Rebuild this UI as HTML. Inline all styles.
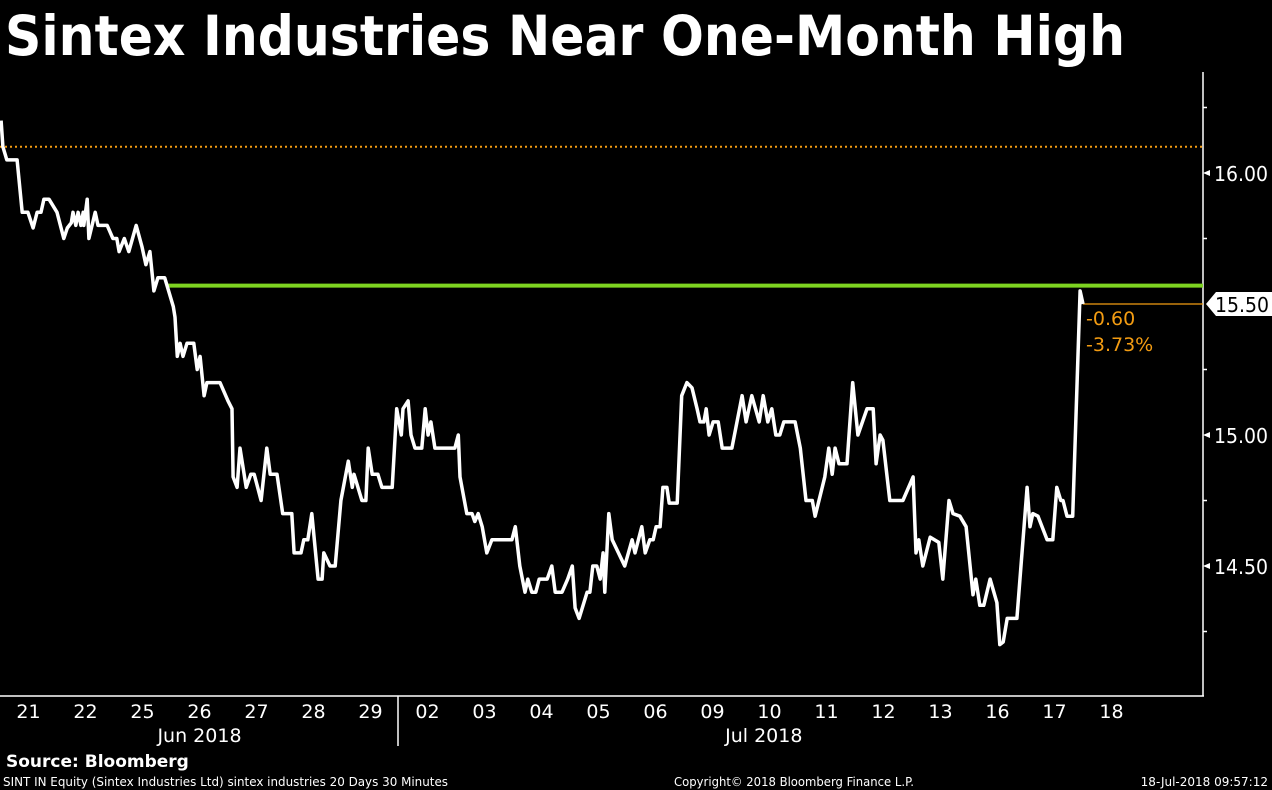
<!DOCTYPE html>
<html><head><meta charset="utf-8"><style>
html,body{margin:0;padding:0;background:#000;}
svg{display:block;}
text{font-family:"DejaVu Sans","Liberation Sans",sans-serif;}
</style></head><body>
<svg id="chart" width="1272" height="790" viewBox="0 0 1272 790" xmlns="http://www.w3.org/2000/svg">
<rect width="1272" height="790" fill="#000"/>
<text x="5" y="55" fill="#fff" font-size="55" font-weight="bold" textLength="1120" lengthAdjust="spacingAndGlyphs">Sintex Industries Near One-Month High</text>
<g id="plot"></g>
<text x="6" y="767" fill="#fff" font-size="17" font-weight="bold">Source: Bloomberg</text>
<text x="3" y="786" fill="#fff" font-size="12" textLength="445" lengthAdjust="spacingAndGlyphs">SINT IN Equity (Sintex Industries Ltd) sintex industries 20 Days 30 Minutes</text>
<text x="674" y="786" fill="#fff" font-size="12" textLength="240" lengthAdjust="spacingAndGlyphs">Copyright© 2018 Bloomberg Finance L.P.</text>
<text x="1268" y="786" fill="#fff" font-size="12" text-anchor="end">18-Jul-2018 09:57:12</text>
</svg>
<script>
const times = [0.02,0.05,0.12,0.30,0.39,0.49,0.58,0.65,0.72,0.77,0.86,1.00,1.12,1.18,1.25,1.28,1.33,1.37,1.42,1.46,1.47,1.53,1.56,1.67,1.72,1.88,1.98,2.05,2.09,2.18,2.26,2.39,2.49,2.56,2.63,2.70,2.77,2.89,3.04,3.07,3.11,3.16,3.21,3.28,3.40,3.46,3.51,3.58,3.63,3.86,4.00,4.07,4.09,4.16,4.21,4.32,4.40,4.46,4.58,4.68,4.74,4.86,4.96,5.12,5.16,5.28,5.33,5.40,5.47,5.58,5.65,5.68,5.79,5.88,5.98,6.11,6.18,6.21,6.35,6.42,6.46,6.53,6.63,6.70,6.88,6.96,7.04,7.07,7.16,7.21,7.28,7.40,7.46,7.51,7.56,7.63,7.98,8.04,8.07,8.19,8.28,8.33,8.39,8.46,8.54,8.63,8.98,9.04,9.12,9.21,9.26,9.33,9.40,9.46,9.60,9.68,9.74,9.86,9.96,10.04,10.09,10.16,10.30,10.35,10.40,10.47,10.53,10.58,10.61,10.68,10.74,10.96,11.09,11.14,11.26,11.32,11.40,11.46,11.51,11.58,11.63,11.70,11.74,11.88,11.96,12.05,12.14,12.23,12.28,12.35,12.39,12.44,12.51,12.60,12.67,12.84,13.02,13.09,13.19,13.32,13.39,13.47,13.54,13.61,13.68,13.75,13.95,14.04,14.14,14.25,14.30,14.47,14.54,14.60,14.65,14.72,14.86,14.96,15.05,15.21,15.32,15.37,15.44,15.49,15.61,15.84,16.02,16.07,16.12,16.19,16.32,16.47,16.54,16.65,16.72,16.84,16.95,17.07,17.12,17.19,17.26,17.37,17.49,17.54,17.60,17.67,17.84,18.02,18.07,18.12,18.21,18.37,18.47,18.54,18.61,18.65,18.72,18.82,18.95,19.00];
const prices = [16.20,16.10,16.05,16.05,15.85,15.85,15.79,15.85,15.85,15.90,15.90,15.85,15.75,15.79,15.81,15.85,15.80,15.85,15.80,15.85,15.80,15.90,15.75,15.85,15.80,15.80,15.75,15.75,15.70,15.75,15.70,15.80,15.72,15.65,15.70,15.55,15.60,15.60,15.49,15.45,15.30,15.35,15.30,15.35,15.35,15.25,15.30,15.15,15.20,15.20,15.13,15.10,14.84,14.80,14.95,14.80,14.85,14.85,14.75,14.95,14.85,14.85,14.70,14.70,14.55,14.55,14.60,14.60,14.70,14.45,14.45,14.55,14.50,14.50,14.75,14.90,14.80,14.85,14.75,14.75,14.95,14.85,14.85,14.80,14.80,15.10,15.00,15.10,15.13,15.00,14.95,14.95,15.10,15.00,15.05,14.95,14.95,15.00,14.84,14.70,14.70,14.67,14.70,14.65,14.55,14.60,14.60,14.65,14.50,14.40,14.45,14.40,14.40,14.45,14.45,14.50,14.40,14.40,14.45,14.50,14.34,14.30,14.40,14.40,14.50,14.50,14.45,14.55,14.40,14.70,14.60,14.50,14.60,14.55,14.65,14.55,14.60,14.60,14.65,14.65,14.80,14.80,14.74,14.74,15.15,15.20,15.18,15.10,15.05,15.05,15.10,15.00,15.05,15.05,14.95,14.95,15.15,15.05,15.15,15.05,15.15,15.05,15.10,15.00,15.00,15.05,15.05,14.95,14.75,14.75,14.69,14.84,14.95,14.85,14.95,14.89,14.89,15.20,15.00,15.10,15.10,14.89,15.00,14.98,14.75,14.75,14.84,14.55,14.60,14.50,14.61,14.59,14.45,14.75,14.70,14.69,14.65,14.39,14.45,14.35,14.35,14.45,14.36,14.20,14.21,14.30,14.30,14.80,14.65,14.70,14.69,14.60,14.60,14.80,14.75,14.75,14.69,14.69,15.55,15.50];
const dayLabels = ["21","22","25","26","27","28","29","02","03","04","05","06","09","10","11","12","13","16","17","18"];
const yTicks = [16.00,15.50,15.00,14.50];
const yMinorTicks = [16.25,15.75,15.25,14.75,14.25];
const monthLabels = ["Jun 2018","Jul 2018"];
const monthCenters = [3,12.9];
const highLevel = 15.57;
const refLevel = 16.10;
const lastPrice = 15.50;
const changeText = ["-0.60","-3.73%"];

const NS = "http://www.w3.org/2000/svg";
const plot = document.getElementById('plot');
const AX = 1203, AB = 696, DAYW = 57;
function xs(t){ return t*DAYW; }
function ys(v){ return 173 + (16 - v)*262; }
function mk(tag, attrs, parent){
  const e = document.createElementNS(NS, tag);
  for (const k in attrs) e.setAttribute(k, attrs[k]);
  (parent||plot).appendChild(e); return e;
}
let e = mk('line',{x1:AX,y1:72,x2:AX,y2:AB,stroke:'#fff','stroke-width':1.5});
 
e = mk('line',{x1:0,y1:AB,x2:AX+1,y2:AB,stroke:'#fff','stroke-width':1.5});
 
e = mk('line',{x1:398,y1:AB,x2:398,y2:746,stroke:'#fff','stroke-width':1.5});
 
e = mk('line',{x1:0,y1:ys(refLevel),x2:AX,y2:ys(refLevel),stroke:'#f39c12','stroke-width':2,'stroke-dasharray':'2,3'});
 
e = mk('line',{x1:168,y1:ys(highLevel),x2:AX,y2:ys(highLevel),stroke:'#7ed321','stroke-width':4});
 
e = mk('line',{x1:xs(times[times.length-1]),y1:ys(lastPrice),x2:AX,y2:ys(lastPrice),stroke:'#f39c12','stroke-width':1.2});
 
let d = times.map((t,i)=>(i?'L':'M')+xs(t).toFixed(1)+','+ys(prices[i]).toFixed(1)).join(' ');
e = mk('path',{d:d,fill:'none',stroke:'#fff','stroke-width':3.5,'stroke-linejoin':'round'});
 
changeText.forEach((s,i)=>{
  const t = mk('text',{x:xs(times[times.length-1])+3,y:ys(lastPrice)+21+i*26,fill:'#f39c12','font-size':19});
  t.textContent = s;
   
});
yTicks.forEach(v=>{
  const y = ys(v);
  if (Math.abs(v-lastPrice) > 0.001) {
    const p = mk('path',{d:`M${AX},${y} l7,-3 l0,6 z`,fill:'#fff'});
     
    const t = mk('text',{x:AX+11,y:y+8,fill:'#fff','font-size':20,'font-family':'Liberation Sans, sans-serif',textLength:54,lengthAdjust:'spacingAndGlyphs'});
    t.textContent = v.toFixed(2);
     
  }
});
yMinorTicks.forEach(v=>{
  const l = mk('line',{x1:AX,y1:ys(v),x2:AX+4,y2:ys(v),stroke:'#fff','stroke-width':1.5});
   
});
const by = ys(lastPrice);
e = mk('path',{d:`M${AX+3},${by} L${AX+13},${by-12} L1272,${by-12} L1272,${by+12} L${AX+13},${by+12} Z`,fill:'#fff'});
 
e = mk('text',{x:AX+12,y:by+8,fill:'#000','font-size':20,'font-family':'Liberation Sans, sans-serif',textLength:54,lengthAdjust:'spacingAndGlyphs'});
e.textContent = lastPrice.toFixed(2);
 
dayLabels.forEach((s,i)=>{
  const t = mk('text',{x:xs(i+0.5),y:718,fill:'#fff','font-size':19,'text-anchor':'middle'});
  t.textContent = s;
   
});
monthLabels.forEach((s,i)=>{
  const t = mk('text',{x:xs(monthCenters[i]+0.5),y:742,fill:'#fff','font-size':19,'text-anchor':'middle'});
  t.textContent = s;
   
});
</script>
</body></html>
